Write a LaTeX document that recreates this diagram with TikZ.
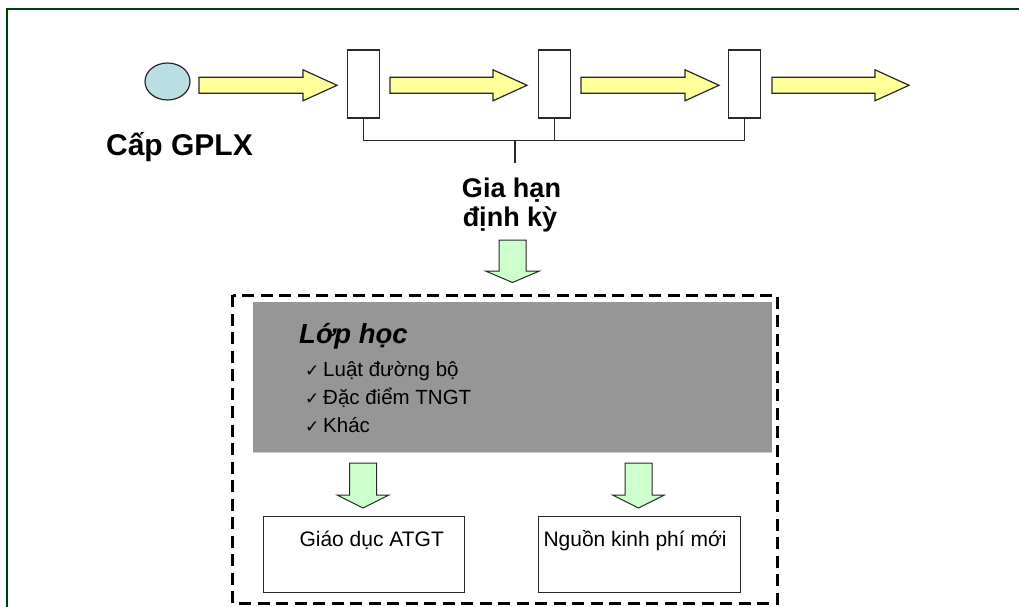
\documentclass[tikz,border=0pt]{standalone}
\usepackage{fontspec}
\usepackage{graphicx}
\setmainfont{Liberation Sans}
\newfontfamily\djv{DejaVu Sans}
\usetikzlibrary{shapes.geometric}
\definecolor{frameg}{RGB}{0,64,0}
\definecolor{ylw}{RGB}{255,255,153}
\definecolor{lblue}{RGB}{185,222,228}
\definecolor{lgreen}{RGB}{204,255,204}
\definecolor{boxgray}{RGB}{150,150,150}
\definecolor{edge}{RGB}{40,40,40}
\newcommand\yarr[3]{\path[yarrow] (#1,{#3-8}) -- ({#2-34},{#3-8}) -- ({#2-34},{#3-15.5}) -- (#2,#3) -- ({#2-34},{#3+15.5}) -- ({#2-34},{#3+8}) -- (#1,{#3+8}) -- cycle;}
\newcommand\garr[6]{\path[garrow] ({#1-#5},#2) -- ({#1+#5},#2) -- ({#1+#5},#3) -- ({#1+#6},#3) -- (#1,#4) -- ({#1-#6},#3) -- ({#1-#5},#3) -- cycle;}
\newcommand\chk{\makebox[18pt][l]{\djv\fontsize{17}{18}\selectfont ✓}}
\begin{document}
\begin{tikzpicture}[x=1pt,y=-1pt,
  yarrow/.style={fill=ylw,draw=edge,line width=1.2pt,line join=miter},
  garrow/.style={fill=lgreen,draw=edge,line width=1pt,line join=miter},
  stage/.style={draw=edge,fill=white,line width=1.3pt,minimum width=32pt,minimum height=68pt,inner sep=0pt},
  outbox/.style={draw=edge,line width=1pt,inner sep=0pt},
  link/.style={draw=edge,line width=1.3pt},
  bigtxt/.style={font=\fontsize{27}{30}\selectfont\bfseries,inner sep=0pt},
  itemtxt/.style={font=\fontsize{20.5}{24}\selectfont,inner sep=0pt,anchor=base west},
  boxtxt/.style={font=\fontsize{21}{24}\selectfont,inner sep=0pt,anchor=base west},
]
\useasboundingbox (0,0) rectangle (1019,607);
\fill[white] (0,0) rectangle (1019,607);
% frame
\draw[frameg,line width=2pt] (6.5,607) -- (6.5,9.5) -- (1019,9.5);

% top row
\node[ellipse,draw=edge,fill=lblue,line width=1.2pt,minimum width=45pt,minimum height=37pt,inner sep=0pt] (start) at (167.5,81.5) {};
\node[stage] (r1) at (363.5,84) {};
\node[stage] (r2) at (554.5,84) {};
\node[stage] (r3) at (744.7,84) {};
\coordinate (open) at (909,85.3);
\yarr{199}{337}{85.3}
\yarr{390}{527}{85.3}
\yarr{581}{719}{85.3}
\yarr{772}{909}{85.3}

% bracket
\coordinate (bl) at (363.5,140.7);
\coordinate (stem) at (515,140.7);
\coordinate (stemend) at (515,163);
\draw[link] (r1.south) |- (r3.south |- bl) -- (r3.south);
\draw[link] (r2.south) -- (r2.south |- bl);
\draw[link] (stem) -- (stemend);

\node[bigtxt,anchor=base east,font=\fontsize{30}{32}\selectfont\bfseries] (cap) at (253,155) {Cấp GPLX};
\node[bigtxt,anchor=base] (gh1) at (511.5,197.3) {Gia hạn};
\node[bigtxt,anchor=base] (gh2) at (510,226.7) {định kỳ};

% big green arrow
\garr{512.5}{240}{271}{282.5}{13.5}{27}

% dashed container
\draw[black,line width=3pt,dash pattern=on 12pt off 6.5pt] (232.5,295) rectangle (777,603);
\node[fill=boxgray,minimum width=519pt,minimum height=151pt,inner sep=0pt,anchor=north west] (cls) at (253,301.5) {};
\draw[gray!40,line width=1pt] (253,452.5) -- (772,452.5);
\node[font=\fontsize{27.5}{30}\selectfont\bfseries\itshape,inner sep=0pt,anchor=base west] (title) at (299,343.6) {Lớp học};
\node[itemtxt] (i1) at (305,376) {\chk Luật đường bộ};
\node[itemtxt] (i2) at (305,404) {\chk Đặc điểm TNGT};
\node[itemtxt] (i3) at (305,432) {\chk Khác};

% small green arrows
\garr{363}{463}{495}{508}{13.5}{26}
\garr{638.5}{463}{495}{508}{13.5}{26}

% output boxes
\node[outbox,minimum width=201pt,minimum height=76pt,anchor=north west] (b1) at (262.7,515.7) {};
\node[outbox,minimum width=201.7pt,minimum height=76pt,anchor=north west] (b2) at (538.3,515.7) {};
\node[boxtxt] (t1) at (299.3,546.7) {Giáo dục ATGT};
\node[boxtxt] (t2) at (543.3,546.7) {Nguồn kinh phí mới};
\end{tikzpicture}
\end{document}
